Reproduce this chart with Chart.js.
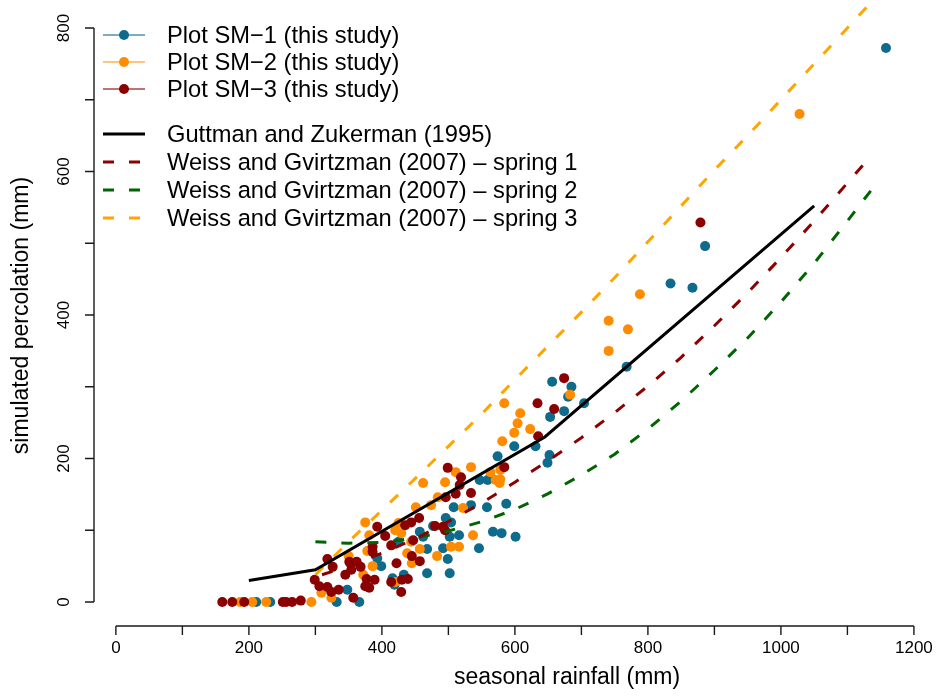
<!DOCTYPE html>
<html><head><meta charset="utf-8">
<script src="https://cdn.jsdelivr.net/npm/chart.js@4.4.1/dist/chart.umd.min.js"></script>
<style>html,body{margin:0;padding:0;background:#fff;} #wrap{width:940px;height:696px;position:relative;}</style>
</head><body><div id="wrap"><canvas id="c" width="940" height="696"></canvas></div>
<script>
// ---- data ----
const sm1Rain = [211,232,332,366,348,393,399,416,419,574,547,559,534,508,558,496,504,477,457,462,502,516,567,425,468,492,546,499,433,468,502,656,685,680,704,674,653,599,631,652,649,564,587,580,601,768,1158,886,834,867];
const sm1Perc = [0,0,0,0,17,61,50,33,24,203,170,170,135,132,132,117,111,106,98,91,91,93,98,84,74,75,75,60,38,40,40,307,300,286,277,266,258,217,217,205,194,173,137,96,91,328,772,496,444,438];

const sm2Rain = [187,205,226,294,309,324,350,372,375,381,378,386,420,511,534,462,495,563,571,484,522,451,474,425,429,537,444,457,504,516,483,438,445,420,584,608,604,623,599,581,683,578,578,577,741,741,770,788,1028];
const sm2Perc = [0,0,0,0,13,6,64,38,111,93,71,50,100,181,188,166,167,181,170,146,131,132,135,110,96,93,84,74,77,77,64,68,54,28,277,263,249,241,236,224,289,184,171,166,392,350,380,429,680];

const sm3Rain = [160,175,193,251,256,265,278,299,306,318,324,335,357,318,326,351,345,354,362,368,377,389,375,381,393,386,386,405,414,414,422,499,519,517,534,511,496,456,444,435,480,492,495,447,445,457,430,439,429,584,634,659,635,674,879];
const sm3Perc = [0,0,0,0,0,0,2,31,22,21,14,17,6,60,49,56,38,45,56,49,32,31,22,20,105,77,70,92,79,28,54,187,174,163,152,151,146,117,111,107,106,105,100,86,64,57,31,32,14,188,277,269,231,312,529];

const gzRain = [200,300,645,1050];
const gzPerc = [30,45,230,552];

const wg1Rain = [310,350,400,450,500,550,600,650,700,750,800,850,900,950,1000,1050,1100,1135];
const wg1Perc = [38,50,68,88,112,138,167,197,229,264,301,341,385,431,480,531,584,621];

const wg2Rain = [300,350,400,450,500,550,600,650,700,750,800,850,900,950,1000,1050,1100,1145];
const wg2Perc = [84,82,83,89,99,112,129,151,177,206,241,280,323,368,418,472,531,585];

const wg3Rain = [300,350,400,450,500,550,600,650,700,750,800,850,900,950,1000,1050,1100,1150];
const wg3Perc = [38,84,128,172,217,262,310,357,404,452,502,552,602,650,700,750,800,850];

const xTickLabels = [0,200,400,600,800,1000,1200];
const xMinorTicks = [100,300,500,700,900,1100];
const yTickLabels = [0,200,400,600,800];
const yMinorTicks = [100,300,500,700];

const seriesNames = ['Plot SM\u22121 (this study)','Plot SM\u22122 (this study)','Plot SM\u22123 (this study)',
  'Guttman and Zukerman (1995)','Weiss and Gvirtzman (2007) \u2013 spring 1',
  'Weiss and Gvirtzman (2007) \u2013 spring 2','Weiss and Gvirtzman (2007) \u2013 spring 3'];

// ---- styles ----
const C_BLUE = '#0f6b8b', C_DORANGE = '#ff8c00', C_DRED = '#8b0000';
const C_BLACK = '#000000', C_GREEN = '#006400', C_ORANGE = '#ffa500';
const FONT = '"Liberation Sans", Arial, Helvetica, sans-serif';

const zip = (a, b) => a.map((v, i) => ({x: v, y: b[i]}));
const pts = (name, r, p, col, order) => ({label: name, data: zip(r, p), showLine: false,
  pointRadius: 5, pointHoverRadius: 5, pointBackgroundColor: col, pointBorderWidth: 0,
  borderColor: col, backgroundColor: col, order: order});
const line = (name, r, p, col, dash) => ({label: name, data: zip(r, p), showLine: true,
  pointRadius: 0, borderColor: col, borderWidth: 3, borderDash: dash, tension: 0,
  borderCapStyle: 'butt', fill: false, order: 0});

const legendRows = [
  {y: 35, kind: 'pt', col: C_BLUE, line: 'rgba(15,107,139,0.55)'},
  {y: 62, kind: 'pt', col: C_DORANGE, line: 'rgba(255,140,0,0.5)'},
  {y: 89, kind: 'pt', col: C_DRED, line: 'rgba(139,0,0,0.55)'},
  {y: 134, kind: 'ln', col: C_BLACK, dash: []},
  {y: 162, kind: 'ln', col: C_DRED, dash: [11, 15]},
  {y: 190, kind: 'ln', col: C_GREEN, dash: [11, 15]},
  {y: 218, kind: 'ln', col: C_ORANGE, dash: [11, 15]}
];

const rAxes = {
  id: 'rAxes',
  afterDraw(chart) {
    const {ctx, chartArea, scales: {x, y}} = chart;
    ctx.save();
    ctx.strokeStyle = '#1a1a1a'; ctx.fillStyle = '#000'; ctx.lineWidth = 1.4;
    // x axis
    const xb = chartArea.bottom;
    ctx.beginPath();
    ctx.moveTo(x.getPixelForValue(xTickLabels[0]), xb);
    ctx.lineTo(x.getPixelForValue(xTickLabels[xTickLabels.length - 1]), xb);
    [...xTickLabels, ...xMinorTicks].forEach(v => {
      const px = x.getPixelForValue(v); ctx.moveTo(px, xb); ctx.lineTo(px, xb + 9);
    });
    ctx.stroke();
    ctx.font = '17px ' + FONT; ctx.textAlign = 'center'; ctx.textBaseline = 'middle';
    xTickLabels.forEach(v => ctx.fillText(String(v), x.getPixelForValue(v), xb + 22));
    // y axis
    const yl = chartArea.left;
    ctx.beginPath();
    ctx.moveTo(yl, y.getPixelForValue(yTickLabels[0]));
    ctx.lineTo(yl, y.getPixelForValue(yTickLabels[yTickLabels.length - 1]));
    [...yTickLabels, ...yMinorTicks].forEach(v => {
      const py = y.getPixelForValue(v); ctx.moveTo(yl, py); ctx.lineTo(yl - 9, py);
    });
    ctx.stroke();
    yTickLabels.forEach(v => {
      ctx.save(); ctx.translate(yl - 30, y.getPixelForValue(v)); ctx.rotate(-Math.PI / 2);
      ctx.fillText(String(v), 0, 0); ctx.restore();
    });
    // titles
    ctx.font = '23px ' + FONT;
    ctx.fillText('seasonal rainfall (mm)', 567, 678);
    ctx.save(); ctx.translate(22, (chartArea.top + chartArea.bottom) / 2); ctx.rotate(-Math.PI / 2);
    ctx.fillText('simulated percolation (mm)', 0, 0); ctx.restore();
    // legend
    ctx.textAlign = 'left';
    legendRows.forEach((r, i) => {
      if (r.kind === 'pt') {
        ctx.strokeStyle = r.line; ctx.lineWidth = 2; ctx.setLineDash([]);
        ctx.beginPath(); ctx.moveTo(103, r.y); ctx.lineTo(145, r.y); ctx.stroke();
        ctx.fillStyle = r.col; ctx.beginPath(); ctx.arc(124, r.y, 5, 0, Math.PI * 2); ctx.fill();
      } else {
        ctx.strokeStyle = r.col; ctx.lineWidth = 3; ctx.setLineDash(r.dash);
        ctx.beginPath(); ctx.moveTo(103, r.y); ctx.lineTo(145, r.y); ctx.stroke();
        ctx.setLineDash([]);
      }
      ctx.fillStyle = '#000'; ctx.font = '23.7px ' + FONT;
      ctx.fillText(seriesNames[i], 167, r.y + 1);
    });
    ctx.restore();
  }
};

new Chart(document.getElementById('c'), {
  type: 'scatter',
  data: {
    datasets: [
      line(seriesNames[3], gzRain, gzPerc, C_BLACK, []),
      line(seriesNames[4], wg1Rain, wg1Perc, C_DRED, [11, 15]),
      line(seriesNames[5], wg2Rain, wg2Perc, C_GREEN, [11, 15]),
      line(seriesNames[6], wg3Rain, wg3Perc, C_ORANGE, [11, 15]),
      pts(seriesNames[2], sm3Rain, sm3Perc, C_DRED, 1),
      pts(seriesNames[1], sm2Rain, sm2Perc, C_DORANGE, 2),
      pts(seriesNames[0], sm1Rain, sm1Perc, C_BLUE, 3)
    ]
  },
  options: {
    responsive: false, animation: false, devicePixelRatio: 1,
    layout: {padding: {left: 94, right: 0, top: 5, bottom: 70}},
    plugins: {legend: {display: false}, tooltip: {enabled: false}},
    scales: {
      x: {type: 'linear', display: false, min: -32.9, max: 1231.7},
      y: {type: 'linear', display: false, min: -33.4, max: 832}
    }
  },
  plugins: [rAxes]
});
</script></body></html>
